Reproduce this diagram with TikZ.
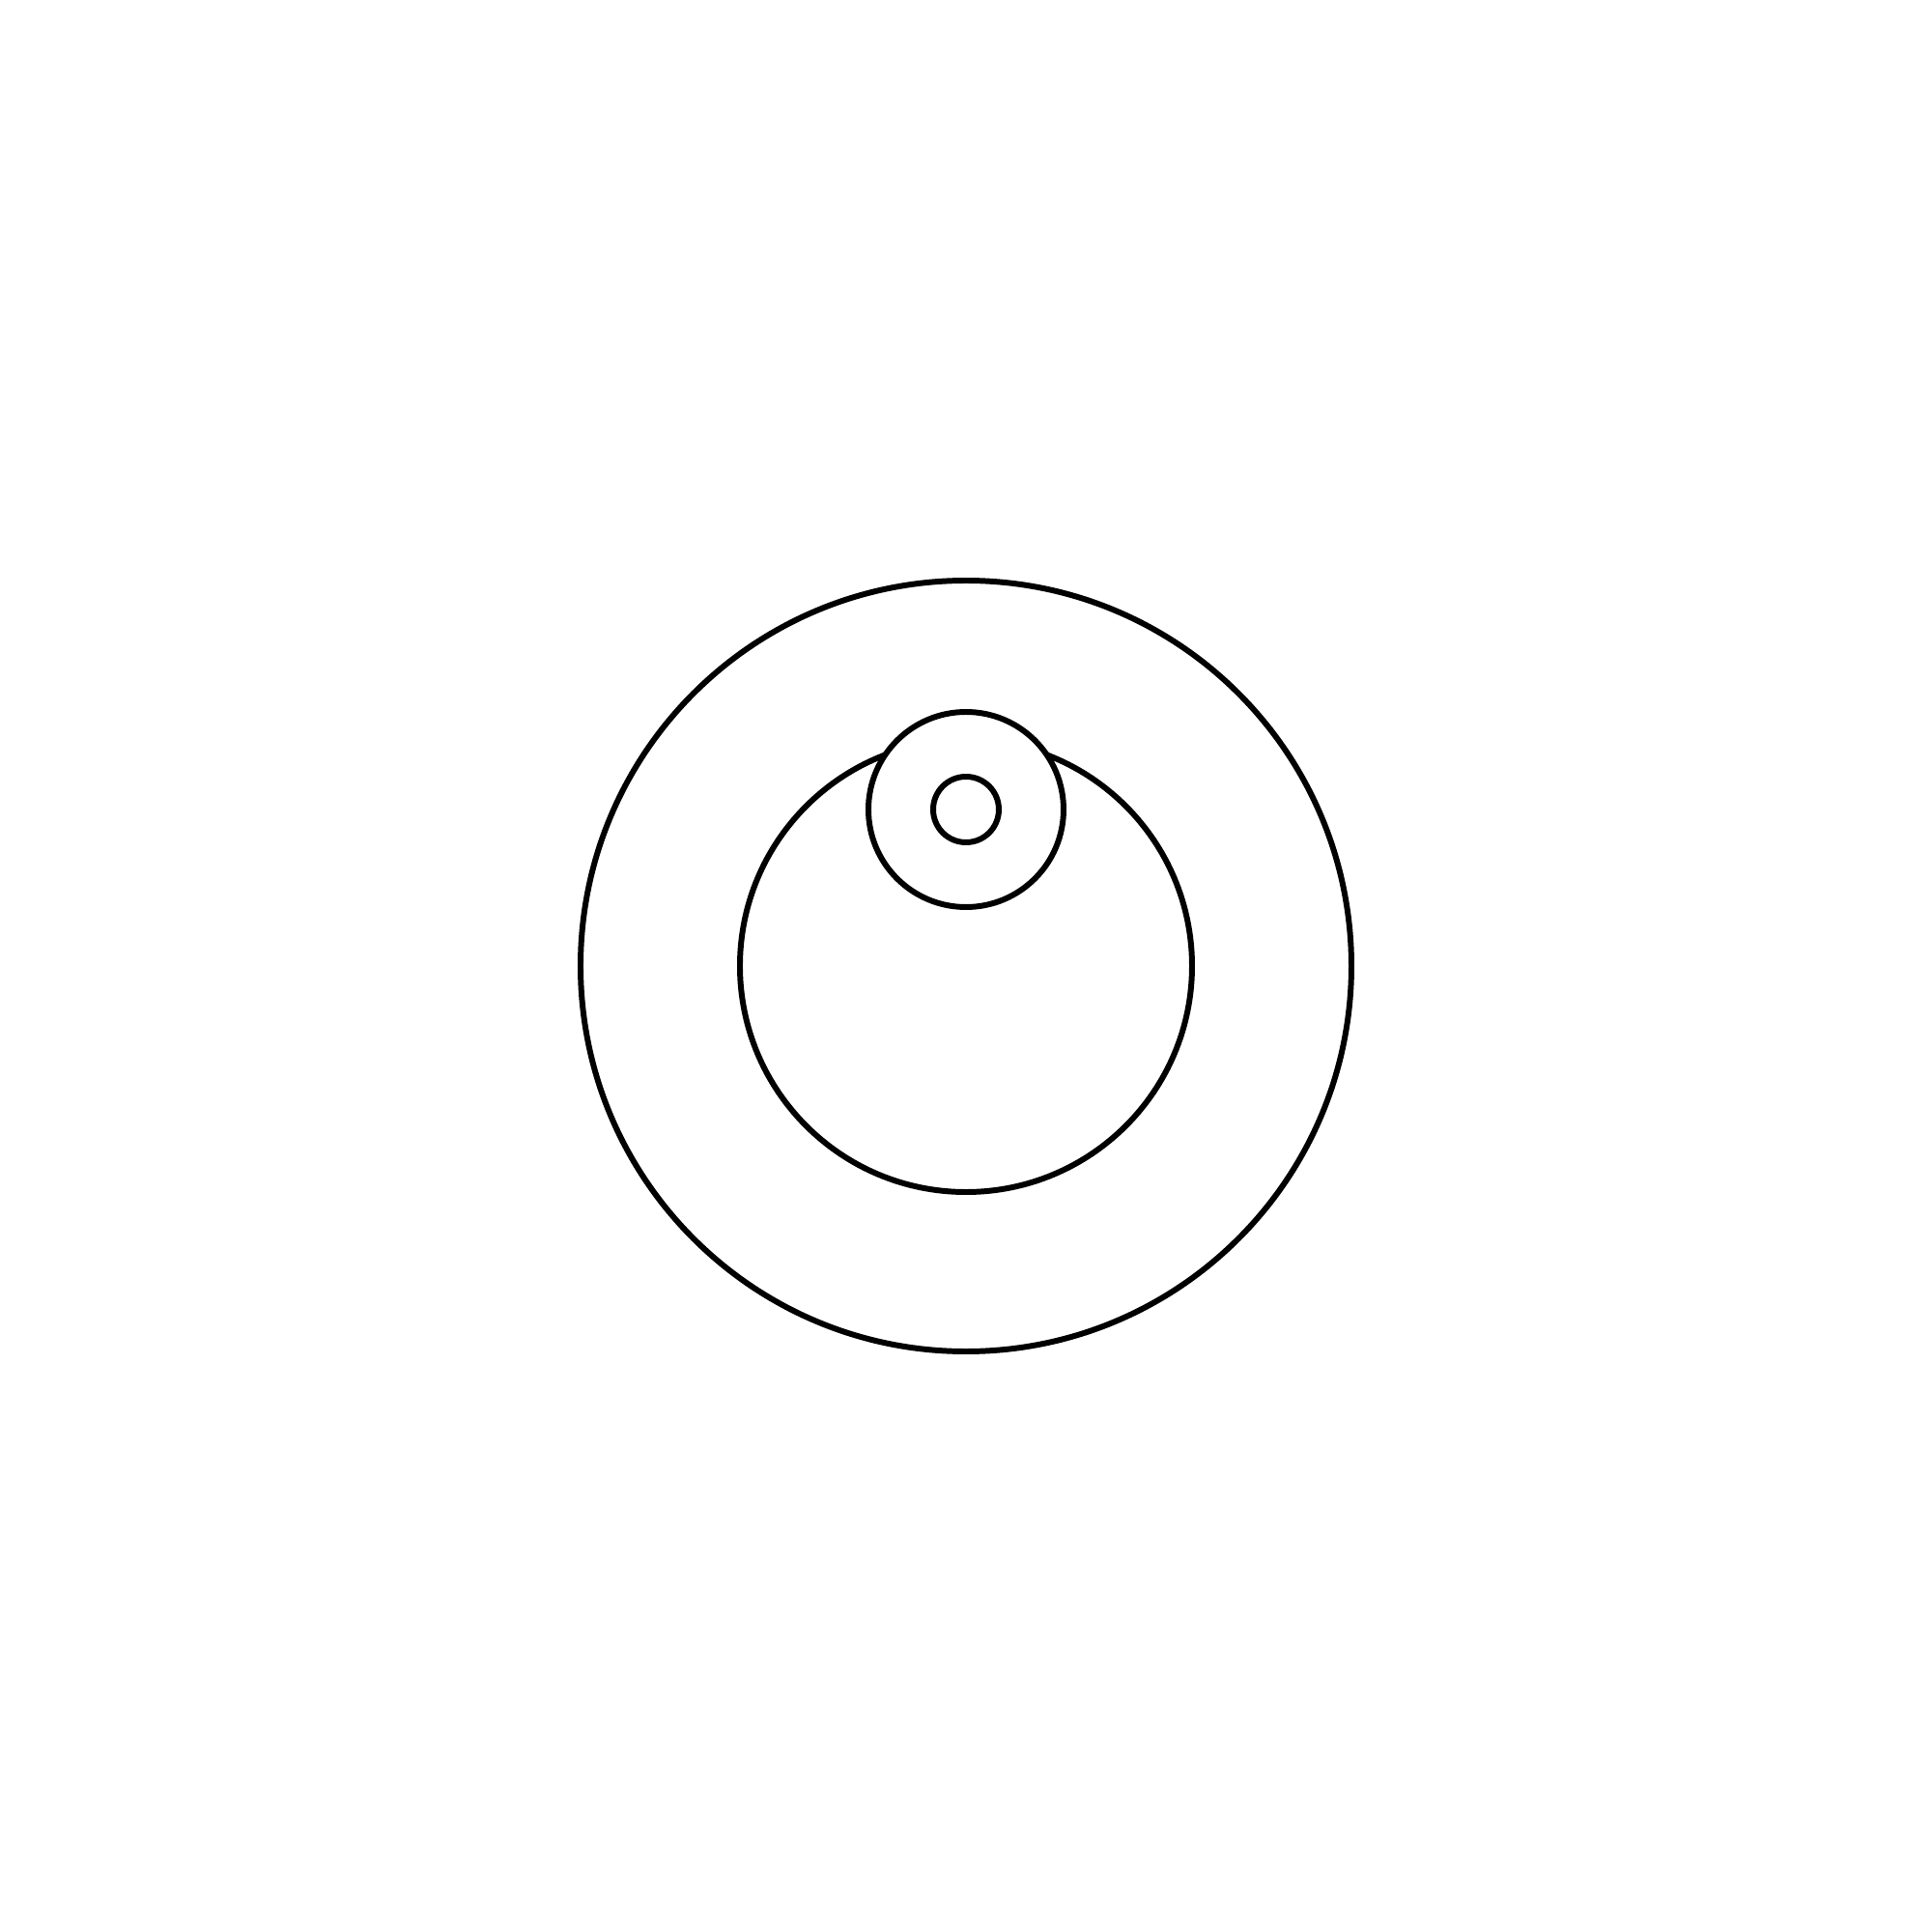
\documentclass[tikz,border=0pt]{standalone}
\usepackage{tikz}
\usetikzlibrary{calc}

\begin{document}
\begin{tikzpicture}[ring/.style={draw=black,line width=1.7pt}]
    \useasboundingbox (-10,-10) rectangle (10,10);
    \coordinate (centre) at (0,0);
    \coordinate (top) at (0,1.62);
    \draw[ring] (centre) circle (3.99);
    \draw[ring] (centre) circle (2.34);
    \draw[ring,fill=white] (top) circle (1.01);
    \draw[ring] (top) circle (0.34);
  \end{tikzpicture}
\end{document}
